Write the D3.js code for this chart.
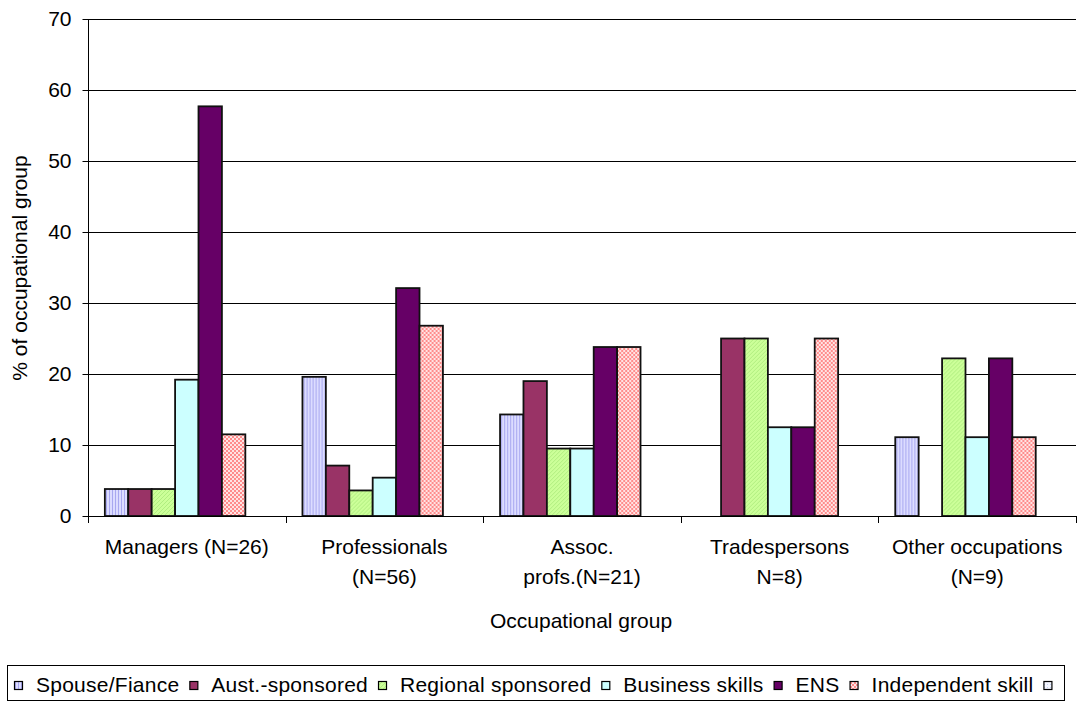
<!DOCTYPE html>
<html>
<head>
<meta charset="utf-8">
<script src="https://cdn.jsdelivr.net/npm/d3@7"></script>
<style>
  html, body { margin: 0; padding: 0; background: #fff; }
  svg { display: block; font-family: "Liberation Sans", Arial, sans-serif; }
</style>
</head>
<body>
<svg id="chart" width="1080" height="708"></svg>
<script>
// Occupational groups (x categories), each label split over lines
const categories = ["Managers (N=26)", "Professionals (N=56)", "Assoc. profs.(N=21)", "Tradespersons N=8)", "Other occupations (N=9)"];
const categoryLines = [["Managers (N=26)"], ["Professionals", "(N=56)"], ["Assoc.", "profs.(N=21)"], ["Tradespersons", "N=8)"], ["Other occupations", "(N=9)"]];

// Visa stream series
const seriesNames = ["Spouse/Fiance", "Aust.-sponsored", "Regional sponsored", "Business skills", "ENS", "Independent skill", ""];

// % of occupational group, one array per series (same order as categories)
const spouseFiance      = [3.8, 19.6, 14.3, 0, 11.1];
const austSponsored     = [3.8, 7.1, 19.0, 25.0, 0];
const regionalSponsored = [3.8, 3.6, 9.5, 25.0, 22.2];
const businessSkills    = [19.2, 5.4, 9.5, 12.5, 11.1];
const ens               = [57.7, 32.1, 23.8, 12.5, 22.2];
const independentSkill  = [11.5, 26.8, 23.8, 25.0, 11.1];
const otherSeries       = [0, 0, 0, 0, 0];

const yTicks = [0, 10, 20, 30, 40, 50, 60, 70];

const seriesValues = [spouseFiance, austSponsored, regionalSponsored, businessSkills, ens, independentSkill, otherSeries];

const svg = d3.select("#chart");
const FONT = "21px";

// ---- fill patterns ----
const defs = svg.append("defs");

const pStripe = defs.append("pattern").attr("id", "pat-stripe")
  .attr("patternUnits", "userSpaceOnUse").attr("width", 3).attr("height", 3);
pStripe.append("rect").attr("width", 3).attr("height", 3).attr("fill", "#dcdcff");
pStripe.append("rect").attr("x", 0).attr("width", 1).attr("height", 3).attr("fill", "#a8a8f0");

const pDiag = defs.append("pattern").attr("id", "pat-diag")
  .attr("patternUnits", "userSpaceOnUse").attr("width", 4).attr("height", 4);
pDiag.append("rect").attr("width", 4).attr("height", 4).attr("fill", "#ccff99");
pDiag.append("path").attr("d", "M0,4 L4,0 M-1,1 L1,-1 M3,5 L5,3")
  .attr("stroke", "#b0ee80").attr("stroke-width", 1);

const pCheck = defs.append("pattern").attr("id", "pat-check")
  .attr("patternUnits", "userSpaceOnUse").attr("width", 4).attr("height", 4);
pCheck.append("rect").attr("width", 4).attr("height", 4).attr("fill", "#ffe4e4");
pCheck.append("rect").attr("x", 0).attr("y", 0).attr("width", 2).attr("height", 2).attr("fill", "#ff8c8c");
pCheck.append("rect").attr("x", 2).attr("y", 2).attr("width", 2).attr("height", 2).attr("fill", "#ff8c8c");

const pDots = defs.append("pattern").attr("id", "pat-dots")
  .attr("patternUnits", "userSpaceOnUse").attr("width", 3).attr("height", 3);
pDots.append("rect").attr("width", 3).attr("height", 3).attr("fill", "#f4f6ff");
pDots.append("rect").attr("width", 1).attr("height", 1).attr("fill", "#c4d0f0");

const seriesFills = ["url(#pat-stripe)", "#993366", "url(#pat-diag)", "#ccffff", "#660066", "url(#pat-check)", "url(#pat-dots)"];

// ---- scales ----
const plot = { left: 88, right: 1076, top: 19, bottom: 516 };

const x0 = d3.scaleBand().domain(categories).range([plot.left, plot.right]).padding(0);
const x1 = d3.scaleBand().domain(d3.range(seriesNames.length))
  .range([0, x0.bandwidth()]).paddingInner(0).paddingOuter(0.72);
const y = d3.scaleLinear().domain([0, 70]).range([plot.bottom, plot.top]);

// ---- gridlines ----
svg.append("g").selectAll("line").data(yTicks.filter(d => d > 0)).join("line")
  .attr("x1", plot.left).attr("x2", plot.right)
  .attr("y1", d => Math.round(y(d)) + 0.5).attr("y2", d => Math.round(y(d)) + 0.5)
  .attr("stroke", "#000").attr("stroke-width", 1);

// ---- bars ----
const groups = svg.append("g").selectAll("g").data(categories).join("g")
  .attr("transform", d => `translate(${x0(d)},0)`);

groups.selectAll("rect")
  .data((c, ci) => seriesValues.map((vals, si) => ({ si, v: vals[ci] })).filter(d => d.v > 0))
  .join("rect")
  .attr("x", d => x1(d.si))
  .attr("y", d => y(d.v))
  .attr("width", x1.bandwidth())
  .attr("height", d => y(0) - y(d.v))
  .attr("fill", d => seriesFills[d.si])
  .attr("stroke", "#111")
  .attr("stroke-width", 1.8);

// ---- y axis ----
const yAxis = svg.append("g")
  .attr("transform", `translate(${plot.left + 0.5},0)`)
  .call(d3.axisLeft(y).tickValues(yTicks).tickSize(6).tickPadding(11).tickFormat(d3.format("d")));
yAxis.select(".domain").attr("stroke", "#000").attr("d", `M0,${plot.top}V${plot.bottom}`);
yAxis.selectAll(".tick line").attr("stroke", "#000");
yAxis.selectAll(".tick text").attr("font-size", FONT).attr("fill", "#000")
  .attr("font-family", "Liberation Sans, Arial, sans-serif");

// ---- x axis ----
const xAxisG = svg.append("g");
xAxisG.append("line")
  .attr("x1", plot.left).attr("x2", plot.right)
  .attr("y1", plot.bottom + 0.5).attr("y2", plot.bottom + 0.5)
  .attr("stroke", "#000");
const boundaries = categories.map(c => x0(c)).concat([x0(categories[categories.length - 1]) + x0.bandwidth()]);
xAxisG.selectAll("line.tick").data(boundaries).join("line").attr("class", "tick")
  .attr("x1", d => Math.round(d) + 0.5).attr("x2", d => Math.round(d) + 0.5)
  .attr("y1", plot.bottom).attr("y2", plot.bottom + 7)
  .attr("stroke", "#000");

// category labels
const catLabels = svg.append("g").selectAll("text").data(categories).join("text")
  .attr("x", d => x0(d) + x0.bandwidth() / 2)
  .attr("y", 554)
  .attr("text-anchor", "middle")
  .attr("font-size", FONT).attr("fill", "#000");
catLabels.each(function (d, i) {
  d3.select(this).selectAll("tspan").data(categoryLines[i]).join("tspan")
    .attr("x", x0(d) + x0.bandwidth() / 2)
    .attr("dy", (t, j) => j === 0 ? 0 : 30)
    .text(t => t);
});

// axis titles
svg.append("text")
  .attr("x", (plot.left + plot.right) / 2 - 1).attr("y", 628)
  .attr("text-anchor", "middle").attr("font-size", FONT).attr("fill", "#000")
  .text("Occupational group");

svg.append("text")
  .attr("transform", `translate(27,268) rotate(-90)`)
  .attr("text-anchor", "middle").attr("font-size", FONT).attr("fill", "#000")
  .text("% of occupational group");

// ---- legend ----
const legend = svg.append("g");
legend.append("rect")
  .attr("x", 7.5).attr("y", 665.5).attr("width", 1057).attr("height", 35)
  .attr("fill", "#fff").attr("stroke", "#000").attr("stroke-width", 1);

let lx = 14;
const sw = 8;
seriesNames.forEach((name, i) => {
  legend.append("rect")
    .attr("x", lx + 0.5).attr("y", 681.5).attr("width", sw).attr("height", sw)
    .attr("fill", seriesFills[i]).attr("stroke", "#000").attr("stroke-width", 1.2);
  lx += sw + 14;
  if (name) {
    const t = legend.append("text")
      .attr("x", lx).attr("y", 692)
      .attr("font-size", FONT).attr("fill", "#000")
      .attr("letter-spacing", "0.25px")
      .text(name);
    lx += t.node().getComputedTextLength() + 10;
  }
});
</script>
</body>
</html>
